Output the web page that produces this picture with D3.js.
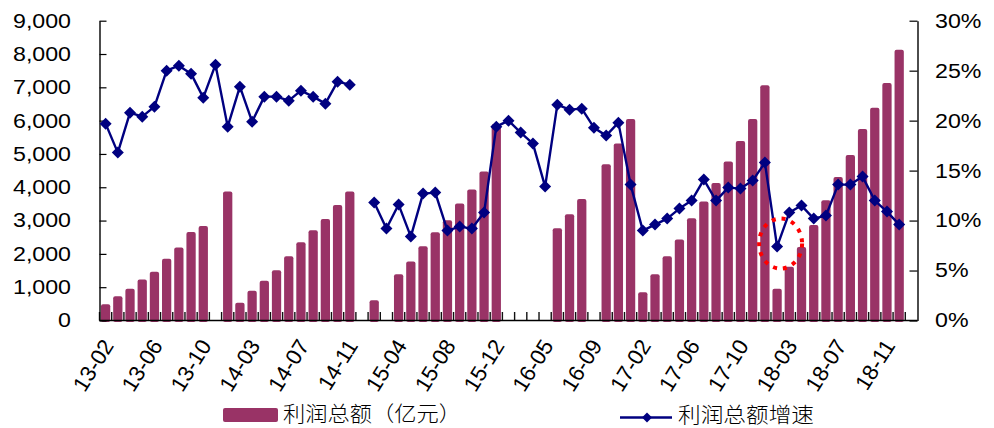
<!DOCTYPE html>
<html>
<head>
<meta charset="utf-8">
<script src="https://cdn.jsdelivr.net/npm/d3@7"></script>
<style>
  html, body { margin: 0; padding: 0; background: #fff; }
  svg { display: block; }
  .num { font-family: "Liberation Sans", Arial, sans-serif; font-size: 20px; fill: #000; }
  .cjk { font-family: "Noto Sans CJK SC", sans-serif; font-size: 21px; font-weight: 300; fill: #000; }
</style>
</head>
<body>
<svg id="chart" width="994" height="428"></svg>
<script>
// Months shown on the category axis (January is reported together with February)
const years = ["13", "14", "15", "16", "17", "18"];
const monthNums = ["02","03","04","05","06","07","08","09","10","11","12"];
const months = years.flatMap(y => monthNums.map(m => `${y}-${m}`));

// Cumulative total profit, 100 million yuan (null = not published)
const profit2013 = [490, 730, 950, 1230, 1460, 1850, 2190, 2660, 2840, null, 3870];
const profit2014 = [530, 890, 1190, 1510, 1930, 2350, 2710, 3050, 3470, 3870, null];
const profit2015 = [610, null, 1390, 1770, 2230, 2650, 3010, 3510, 3930, 4470, 5900];
const profit2016 = [null, null, null, null, 2770, 3190, 3650, null, 4690, 5310, 6050];
const profit2017 = [850, 1390, 1930, 2430, 3070, 3570, 4130, 4770, 5390, 6050, 7060];
const profit2018 = [950, 1610, 2210, 2870, 3610, 4310, 4970, 5750, 6390, 7130, 8130];

// Year-on-year growth of total profit, percent
const growth2013 = [19.7, 16.8, 20.8, 20.4, 21.4, 25.0, 25.5, 24.7, 22.3, 25.6, 19.4];
const growth2014 = [23.4, 19.9, 22.4, 22.4, 22.0, 23.0, 22.4, 21.7, 23.9, 23.6, null];
const growth2015 = [11.8, 9.2, 11.6, 8.4, 12.7, 12.8, 9.0, 9.4, 9.2, 10.8, 19.4];
const growth2016 = [20.0, 18.8, 17.7, 13.4, 21.6, 21.1, 21.2, 19.3, 18.5, 19.8, 13.6];
const growth2017 = [9.0, 9.6, 10.2, 11.2, 12.0, 14.1, 12.0, 13.3, 13.2, 14.0, 15.8];
const growth2018 = [7.4, 10.8, 11.5, 10.2, 10.5, 13.6, 13.6, 14.4, 12.0, 10.9, 9.6];

// Axis ticks
const leftTicks = [0, 1000, 2000, 3000, 4000, 5000, 6000, 7000, 8000, 9000];
const rightTicks = [0, 5, 10, 15, 20, 25, 30];
const labelEvery = 4;

// Legend labels and the highlighted month
const barName = "利润总额（亿元）";
const lineName = "利润总额增速";
const highlightMonth = "18-02";

const profit = [].concat(profit2013, profit2014, profit2015, profit2016, profit2017, profit2018);
const growth = [].concat(growth2013, growth2014, growth2015, growth2016, growth2017, growth2018);
const rows = months.map((m, i) => ({ month: m, profit: profit[i], growth: growth[i] }));

// ---- layout ----
const plotLeft = 99.5, plotRight = 917.5, plotTop = 20.7, plotBottom = 320.5;
const slots = months.length + 1;              // one trailing empty slot on the axis
const step = (plotRight - plotLeft) / slots;
const barColor = "#993366", lineColor = "#000080";

const svg = d3.select("#chart");

const x = d3.scaleBand()
  .domain(months)
  .range([plotLeft, plotLeft + step * months.length])
  .paddingInner(0.24)
  .paddingOuter(0.12);
const xc = m => x(m) + x.bandwidth() / 2;

const yL = d3.scaleLinear().domain([0, 9000]).range([plotBottom, plotTop]);
const yR = d3.scaleLinear().domain([0, 30]).range([plotBottom, plotTop]);

// ---- bars ----
svg.append("g").selectAll("rect")
  .data(rows.filter(d => d.profit != null))
  .join("rect")
  .attr("x", d => x(d.month))
  .attr("y", d => yL(d.profit))
  .attr("width", x.bandwidth())
  .attr("height", d => yL(0) - yL(d.profit) + 1.5)
  .attr("rx", 2)
  .attr("fill", barColor);

// ---- category axis: baseline and boundary ticks ----
const boundaries = months.map(m => plotLeft + months.indexOf(m) * step).concat([plotLeft + months.length * step]);
const gx = svg.append("g");
gx.selectAll("line.tick")
  .data(boundaries)
  .join("line")
  .attr("class", "tick")
  .attr("x1", d => d).attr("x2", d => d)
  .attr("y1", plotBottom).attr("y2", plotBottom - 8.5)
  .attr("stroke", "#111").attr("stroke-width", 1.4);
gx.append("line")
  .attr("x1", plotLeft).attr("x2", plotRight)
  .attr("y1", plotBottom).attr("y2", plotBottom)
  .attr("stroke", "#000").attr("stroke-width", 1.4);

gx.selectAll("text")
  .data(months.filter((m, i) => i % labelEvery === 0))
  .join("text")
  .attr("class", "num")
  .style("font-size", "22px")
  .attr("text-anchor", "end")
  .attr("transform", m => `translate(${xc(m) + 9},${plotBottom + 25}) rotate(-58)`)
  .text(m => m);

// ---- value axes ----
const gl = svg.append("g")
  .attr("transform", `translate(${plotLeft},0)`)
  .call(d3.axisLeft(yL).tickValues(leftTicks).tickSizeInner(-7).tickSizeOuter(0)
    .tickFormat(d3.format(",")));
const gr = svg.append("g")
  .attr("transform", `translate(${plotRight},0)`)
  .call(d3.axisRight(yR).tickValues(rightTicks).tickSizeInner(-8).tickSizeOuter(0)
    .tickFormat(d => d + "%"));

[gl, gr].forEach(g => {
  g.attr("font-family", null).attr("font-size", null);
  g.select(".domain").attr("stroke", "#000").attr("stroke-width", 1.4);
  g.selectAll(".tick line").attr("stroke", "#000").attr("stroke-width", 1.2);
});
gl.selectAll(".tick text")
  .attr("class", "num").attr("x", null)
  .attr("transform", "translate(-28.5,0) scale(1.16,1)");
gr.selectAll(".tick text")
  .attr("class", "num").attr("x", null)
  .attr("transform", "translate(17.5,0) scale(1.16,1)");

// ---- growth line ----
const line = d3.line()
  .defined(d => d.growth != null)
  .x(d => xc(d.month))
  .y(d => yR(d.growth));
svg.append("path")
  .datum(rows)
  .attr("d", line)
  .attr("fill", "none")
  .attr("stroke", lineColor)
  .attr("stroke-width", 2.4)
  .attr("stroke-linejoin", "round");

const diamond = d3.symbol().type(d3.symbolSquare).size(72);
svg.append("g").selectAll("path")
  .data(rows.filter(d => d.growth != null))
  .join("path")
  .attr("d", diamond)
  .attr("transform", d => `translate(${xc(d.month)},${yR(d.growth)}) rotate(45)`)
  .attr("fill", lineColor);

// ---- dotted red ring around the weakest reading ----
const hl = rows.find(d => d.month === highlightMonth);
svg.append("ellipse")
  .attr("cx", xc(hl.month) + 3.5)
  .attr("cy", yR(hl.growth) - 3)
  .attr("rx", 21.5)
  .attr("ry", 25)
  .attr("fill", "none")
  .attr("stroke", "#ff0000")
  .attr("stroke-width", 4)
  .attr("stroke-dasharray", "4 6");

// ---- legend ----
const lg = svg.append("g");
lg.append("rect")
  .attr("x", 223).attr("y", 408).attr("width", 55).attr("height", 14)
  .attr("rx", 2).attr("fill", barColor);
lg.append("text").attr("class", "cjk")
  .attr("x", 283).attr("y", 413).attr("dy", "0.36em")
  .attr("textLength", 178).attr("lengthAdjust", "spacingAndGlyphs")
  .text(barName);

lg.append("line")
  .attr("x1", 620).attr("x2", 672).attr("y1", 417.5).attr("y2", 417.5)
  .attr("stroke", lineColor).attr("stroke-width", 2.4);
lg.append("path")
  .attr("d", d3.symbol().type(d3.symbolSquare).size(50))
  .attr("transform", "translate(647,417.5) rotate(45)")
  .attr("fill", lineColor);
lg.append("text").attr("class", "cjk")
  .attr("x", 678).attr("y", 414).attr("dy", "0.36em")
  .attr("textLength", 136).attr("lengthAdjust", "spacingAndGlyphs")
  .text(lineName);
</script>
</body>
</html>
